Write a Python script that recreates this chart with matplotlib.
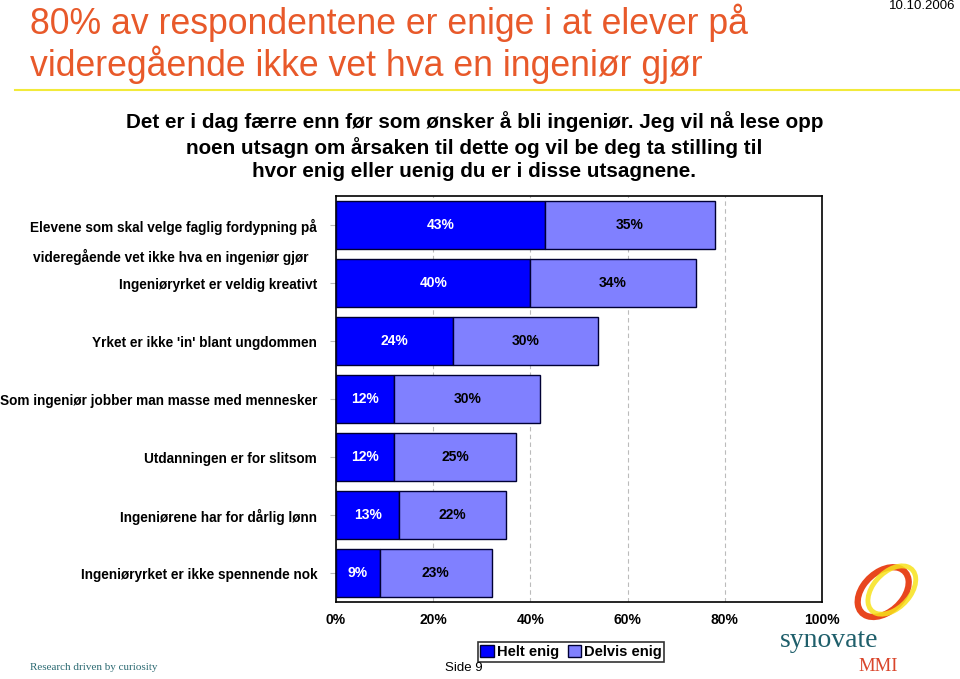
import matplotlib
matplotlib.use("Agg")
import matplotlib.pyplot as plt
from matplotlib.patches import Ellipse
from matplotlib import font_manager
import numpy as np

# data
categories = [
    "Elevene som skal velge faglig fordypning på",
    "Ingeniøryrket er veldig kreativt",
    "Yrket er ikke 'in' blant ungdommen",
    "Som ingeniør jobber man masse med mennesker",
    "Utdanningen er for slitsom",
    "Ingeniørene har for dårlig lønn",
    "Ingeniøryrket er ikke spennende nok",
]
helt_enig = [43, 40, 24, 12, 12, 13, 9]
delvis_enig = [35, 34, 30, 30, 25, 22, 23]
xticks = [0, 20, 40, 60, 80, 100]

plt.rcParams['font.family'] = ['Liberation Sans', 'DejaVu Sans']

# narrow face for the question text if there is one
names = {f.name for f in font_manager.fontManager.ttflist}
narrow = 'Liberation Sans Narrow' if 'Liberation Sans Narrow' in names else 'Liberation Sans'

fig = plt.figure(figsize=(9.6, 6.79), dpi=100)

# header
fig.text(0.031, 0.967, "80% av respondentene er enige i at elever på", fontsize=25.7,
         color='#E8592A', va='center', ha='left')
fig.text(0.031, 0.905, "videregående ikke vet hva en ingeniør gjør", fontsize=25.7,
         color='#E8592A', va='center', ha='left')
fig.text(0.995, 0.991, "10.10.2006", fontsize=9.5, ha='right', va='center')
fig.add_artist(plt.Line2D([0.016, 1.0], [0.867, 0.867], color='#F2EA3A', lw=1.5))

subtitle = ("Det er i dag færre enn før som ønsker å bli ingeniør. Jeg vil nå lese opp\n"
            "noen utsagn om årsaken til dette og vil be deg ta stilling til\n"
            "hvor enig eller uenig du er i disse utsagnene.")
sub = fig.text(0.494, 0.785, subtitle, fontsize=14, fontweight='bold', ha='center', va='center',
               linespacing=1.27, family=[narrow, 'DejaVu Sans'])
# fit the first line to the width it has on the slide (~696 px)
fig.canvas.draw()
w = sub.get_window_extent().width
sub.set_fontsize(14 * 696 / w)

ax = fig.add_axes([0.35, 0.1134, 0.5063, 0.5979])
y = np.arange(len(categories))
h = 0.84
ax.barh(y, helt_enig, height=h, color='#0000FF', edgecolor='#000033', lw=1, label='Helt enig', zorder=3)
ax.barh(y, delvis_enig, left=helt_enig, height=h, color='#8080FF', edgecolor='#000033', lw=1,
        label='Delvis enig', zorder=3)

for i in range(len(categories)):
    ax.text(helt_enig[i] / 2, y[i], f"{helt_enig[i]}%", color='white', fontsize=10,
            fontweight='bold', ha='center', va='center', zorder=4)
    ax.text(helt_enig[i] + delvis_enig[i] / 2, y[i], f"{delvis_enig[i]}%", color='black',
            fontsize=10, fontweight='bold', ha='center', va='center', zorder=4)

ax.set_xlim(0, 100)
ax.set_ylim(len(categories) - 0.5, -0.5)
ax.set_xticks(xticks)
ax.set_xticklabels([f"{t}%" for t in xticks], fontsize=10, fontweight='bold')
ax.set_yticks(y)
ax.set_yticklabels(categories, fontsize=9.8, fontweight='bold')
ax.text(-34, 0.55, "videregående vet ikke hva en ingeniør gjør", fontsize=9.8, fontweight='bold',
        ha='center', va='center')
ax.tick_params(axis='x', length=0, pad=8)
ax.tick_params(axis='y', length=4, color='#BBBBBB', pad=9.5)
ax.xaxis.grid(True, linestyle=(0, (4, 3)), color='#BBBBBB', lw=0.8, zorder=0)
for s in ax.spines.values():
    s.set_color('black')
    s.set_linewidth(1.2)

leg = ax.legend(loc='center', bbox_to_anchor=(0.4835, -0.124), ncol=2, frameon=True, fancybox=False,
                edgecolor='black', handlelength=0.9, handleheight=0.9, handletextpad=0.2,
                columnspacing=0.6, borderpad=0.2, prop={'weight': 'bold', 'size': 10.6})
leg.get_frame().set_linewidth(1.2)

# footer
fig.text(0.4635, 0.016, "Side 9", fontsize=9.5, ha='left', va='center')
fig.text(0.031, 0.017, "Research driven by curiosity", fontsize=8, color='#2D6B73',
         family='Liberation Serif', ha='left', va='center')
fig.text(0.864, 0.057, "synovate", fontsize=20, color='#1F5F6B', family='Liberation Serif',
         ha='center', va='center')
fig.text(0.915, 0.019, "MMI", fontsize=13.5, color='#D9452B', family='Liberation Serif',
         ha='center', va='center')
fig.add_artist(Ellipse((0.920, 0.128), 0.046, 0.078, angle=-25, fill=False, ec='#E8461E', lw=4.5,
                       transform=fig.transFigure))
fig.add_artist(Ellipse((0.929, 0.131), 0.042, 0.076, angle=-25, fill=False, ec='#F7E21B', lw=3.5,
                       transform=fig.transFigure, alpha=0.85))

fig.savefig("out.png", dpi=100)
